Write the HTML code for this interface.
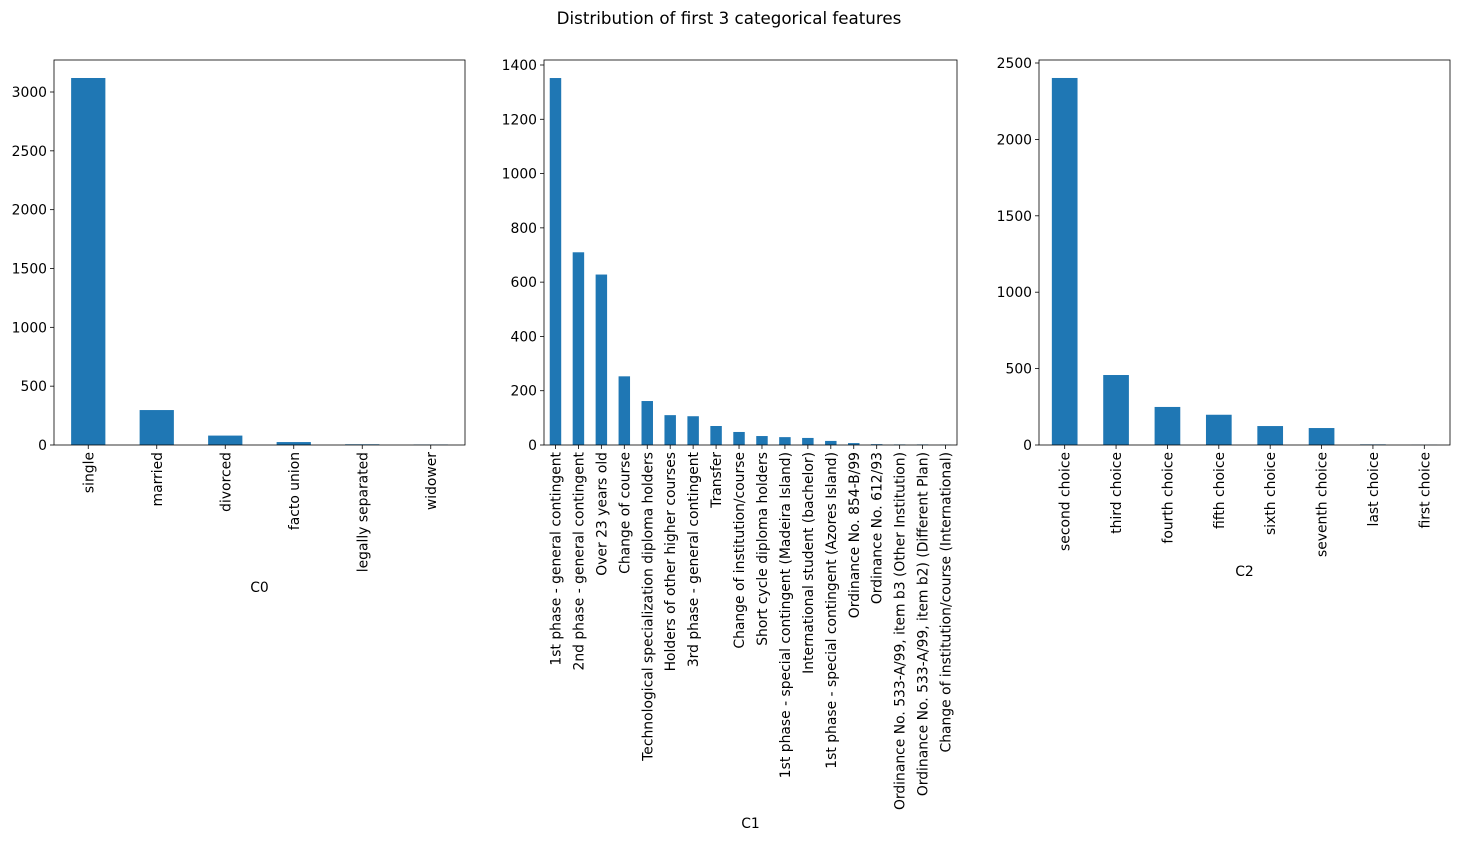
<!DOCTYPE html>
<html><head><meta charset="utf-8"><style>
body{margin:0;background:#fff;}
svg text{font-family:"DejaVu Sans","Liberation Sans",sans-serif;fill:#000;}
</style></head><body>
<svg id="chart" width="1459" height="841" xmlns="http://www.w3.org/2000/svg">
<text x="729" y="24" text-anchor="middle" font-size="16.7">Distribution of first 3 categorical features</text>
</svg>
<script>
const c0Cats=["single","married","divorced","facto union","legally separated","widower"];
const c0Vals=[3119,297,80,25,6,4];
const c1Cats=["1st phase - general contingent","2nd phase - general contingent","Over 23 years old","Change of course","Technological specialization diploma holders","Holders of other higher courses","3rd phase - general contingent","Transfer","Change of institution/course","Short cycle diploma holders","1st phase - special contingent (Madeira Island)","International student (bachelor)","1st phase - special contingent (Azores Island)","Ordinance No. 854-B/99","Ordinance No. 612/93","Ordinance No. 533-A/99, item b3 (Other Institution)","Ordinance No. 533-A/99, item b2) (Different Plan)","Change of institution/course (International)"];
const c1Vals=[1352,710,628,253,162,110,106,70,48,33,29,26,15,7,3,2,2,1];
const c2Cats=["second choice","third choice","fourth choice","fifth choice","sixth choice","seventh choice","last choice","first choice"];
const c2Vals=[2402,458,249,198,124,111,4,1];
const c0Ticks=[0,500,1000,1500,2000,2500,3000];
const c1Ticks=[0,200,400,600,800,1000,1200,1400];
const c2Ticks=[0,500,1000,1500,2000,2500];
const NS="http://www.w3.org/2000/svg";
const svg=document.getElementById('chart');
function mk(t,a,p){const e=document.createElementNS(NS,t);for(const k in a)e.setAttribute(k,a[k]);(p||svg).appendChild(e);return e;}
function panel(id,x0,x1,yTop,yMax,cats,vals,ticks,xlabel,xlabelY){
  const y0=445;
  const g=mk('g',{});
  
  
  const ys=v=>y0-(v/yMax)*(y0-yTop);
  const step=(x1-x0)/cats.length;
  cats.forEach((c,i)=>{
    const cx=x0+step*(i+0.5), w=step*0.5;
    const r=mk('rect',{x:cx-w/2,y:ys(vals[i]),width:w,height:y0-ys(vals[i]),fill:'#1f77b4'},g);
    
    
    mk('line',{x1:cx,x2:cx,y1:y0,y2:y0+4,stroke:'#000','stroke-width':0.8},g);
    const t=mk('text',{x:0,y:0,'font-size':13.9,'text-anchor':'end',transform:`translate(${cx+5},${y0+7}) rotate(-90)`},g);
    t.textContent=c;
    
    
  });
  ticks.forEach(v=>{
    const y=ys(v);
    mk('line',{x1:x0-4,x2:x0,y1:y,y2:y,stroke:'#000','stroke-width':0.8},g);
    const t=mk('text',{x:x0-7,y:y+5,'font-size':13.9,'text-anchor':'end'},g);
    t.textContent=v;
    
    
  });
  const f=mk('rect',{x:x0,y:60,width:x1-x0,height:y0-60,fill:'none',stroke:'#000','stroke-width':0.8},g);
  
  
  const xl=mk('text',{x:(x0+x1)/2,y:xlabelY,'font-size':13.9,'text-anchor':'middle'},g);
  xl.textContent=xlabel;
  
  
}
panel('c0',54,465,92,3000,c0Cats,c0Vals,c0Ticks,'C0',592);
panel('c1',544,957,65,1400,c1Cats,c1Vals,c1Ticks,'C1',828);
panel('c2',1039,1450,63,2500,c2Cats,c2Vals,c2Ticks,'C2',576);
</script>
</body></html>
